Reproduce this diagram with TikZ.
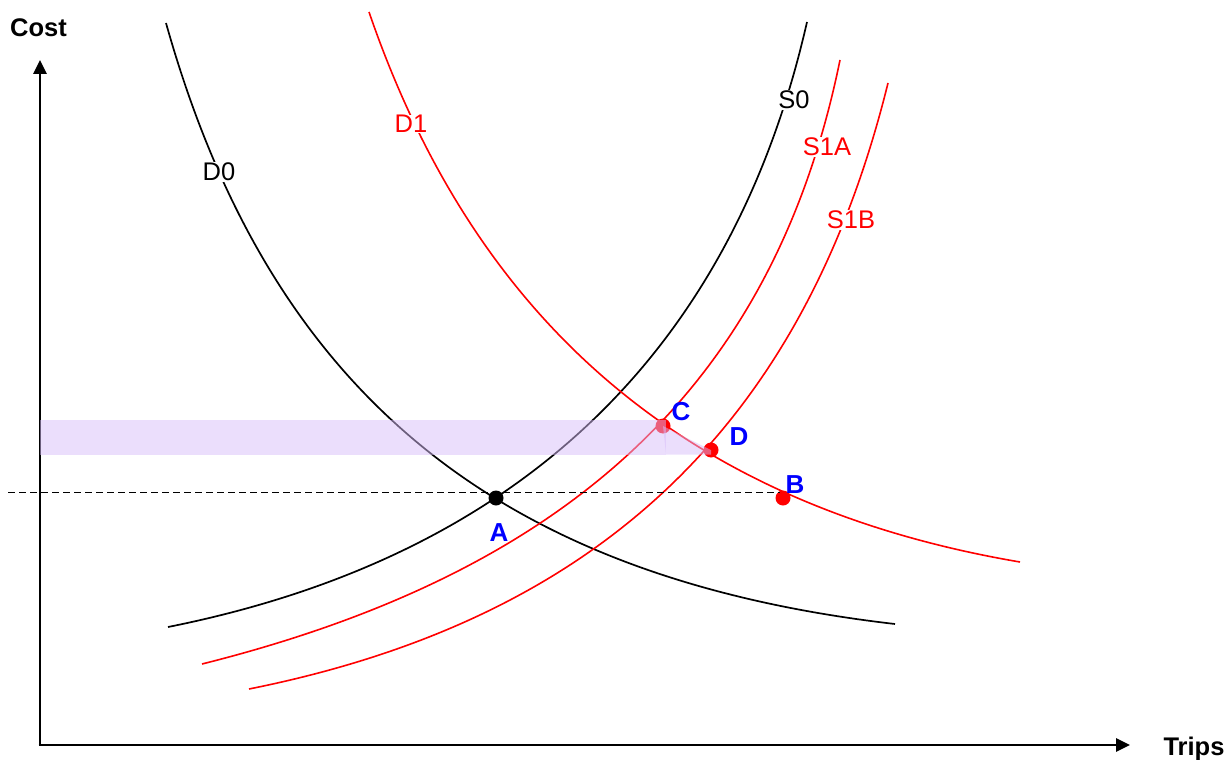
\documentclass[tikz,border=0pt]{standalone}
\usepackage{fontspec}
\setmainfont{Liberation Sans}
\usetikzlibrary{arrows.meta}
\begin{document}
\begin{tikzpicture}[x=1pt,y=-1pt,
  blackcurve/.style={draw=black, line width=1.7pt},
  redcurve/.style={draw=red, line width=1.6pt},
  curvelabel/.style={fill=white, inner sep=0.5pt, font=\fontsize{25.5}{30}\selectfont},
  ptlabel/.style={text=blue, inner sep=0pt, font=\bfseries\fontsize{26}{30}\selectfont},
  axislabel/.style={text=black, inner sep=0pt, font=\bfseries\fontsize{25.5}{30}\selectfont},
  dot/.style={circle, inner sep=0pt, minimum size=15pt},
  axisline/.style={line width=2.6pt, -{Triangle[length=14pt,width=13pt]}},
  shade/.style={fill={rgb,255:red,215;green,189;blue,249}, fill opacity=0.5, draw=none}]
\useasboundingbox (0,0) rectangle (1232,760);
% axes
\coordinate (O) at (40,745);
\coordinate (O2) at (38.7,745);
\coordinate (ytip) at (40,60);
\coordinate (xtip) at (1130,745);
\draw[axisline] (O) -- (ytip);
\draw[axisline] (O2) -- (xtip);
\node[axislabel, anchor=west] (cost) at (10,28) {Cost};
\node[axislabel] (trips) at (1194,749) {Trips};
% curves
\draw[blackcurve] (166,23) .. controls (269.5,391.5) and (495.5,577.8) .. (895,624);
\draw[blackcurve] (168,627) .. controls (516.7,557.3) and (731.4,354) .. (807,22);
\draw[redcurve] (369,12) .. controls (476.9,326) and (689.8,505.9) .. (1020,562);
\draw[redcurve] (202,664) .. controls (573.5,570.9) and (774.5,380.9) .. (840,60);
\draw[redcurve] (249,689) .. controls (598.5,619.1) and (803.6,424.6) .. (888,83);
% points
\node[dot, fill=black] (A) at (496,498) {};
\node[dot, fill=red] (B) at (783,498) {};
\node[dot, fill=red] (C) at (663,426) {};
\node[dot, fill=red] (D) at (711,450) {};
% dashed line
\coordinate (dl) at (8,492.5);
\coordinate (dr) at (780,492.5);
\draw[dash pattern=on 7pt off 4pt, line width=1.3pt] (dl) -- (dr);
% shading
\fill[shade] (40,420) rectangle (666,454.5);
\fill[shade] (663,426) -- (711,450) -- (711,454.5) -- (666,454.5) -- cycle;
% labels
\node[curvelabel] (lD0) at (219,172) {D0};
\node[curvelabel, text=red] (lD1) at (411,124) {D1};
\node[curvelabel] (lS0) at (794,100) {S0};
\node[curvelabel, text=red] (lS1A) at (827,147) {S1A};
\node[curvelabel, text=red] (lS1B) at (851,220) {S1B};
\node[ptlabel] (lA) at (499,533) {A};
\node[ptlabel] (lB) at (795,485) {B};
\node[ptlabel] (lC) at (681,412) {C};
\node[ptlabel] (lD) at (739,437) {D};
\end{tikzpicture}
\end{document}
